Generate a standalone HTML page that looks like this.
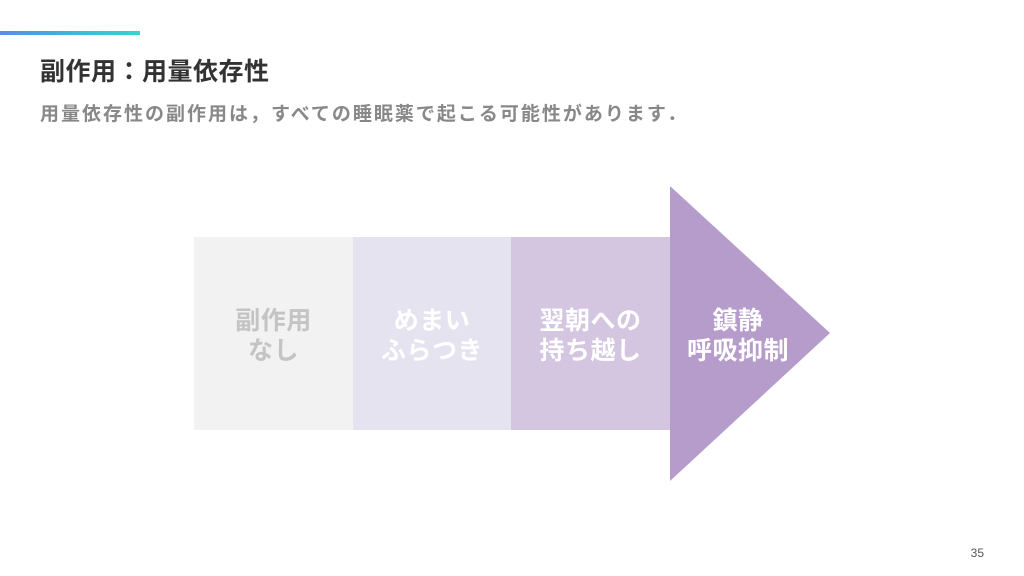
<!DOCTYPE html>
<html><head><meta charset="utf-8"><style>
body{margin:0;width:1024px;height:576px;background:#fff;position:relative;overflow:hidden;font-family:"Liberation Sans","Noto Sans CJK JP",sans-serif}
.bar{position:absolute;left:0;top:31px;width:140px;height:4px;background:linear-gradient(90deg,#5b8de0,#2fd6d6)}
.t{position:absolute;left:40px;top:52px;font-size:25px;font-weight:bold;color:#333;white-space:nowrap;letter-spacing:0.5px}
.s{position:absolute;left:40px;top:99px;font-size:19px;font-weight:bold;color:#888;white-space:nowrap;letter-spacing:2px}
.b{position:absolute;top:239px;height:193px;display:flex;align-items:center;justify-content:center;text-align:center;font-size:25px;font-weight:bold;line-height:30px;color:#fff;letter-spacing:0.5px;white-space:nowrap}
.n{position:absolute;right:40px;top:546px;font-size:12px;color:#555}
</style></head><body>
<div class="bar"></div>
<div class="t">副作用：用量依存性</div>
<div class="s">用量依存性の副作用は，すべての睡眠薬で起こる可能性があります．</div>
<svg style="position:absolute;left:0;top:0" width="1024" height="576">
<rect x="194" y="237" width="159" height="193" fill="#f2f2f2"/>
<rect x="353" y="237" width="158" height="193" fill="#e5e3f0"/>
<rect x="511" y="237" width="159" height="193" fill="#d4c5e0"/>
<polygon points="670,186 830,333 670,481" fill="#b59ccb"/>
</svg>
<div class="b" style="left:194px;width:159px;color:#c4c4c4">副作用<br>なし</div>
<div class="b" style="left:353px;width:158px">めまい<br>ふらつき</div>
<div class="b" style="left:511px;width:159px">翌朝への<br>持ち越し</div>
<div class="b" style="left:678px;width:120px">鎮静<br>呼吸抑制</div>
<div class="n">35</div>
</body></html>
